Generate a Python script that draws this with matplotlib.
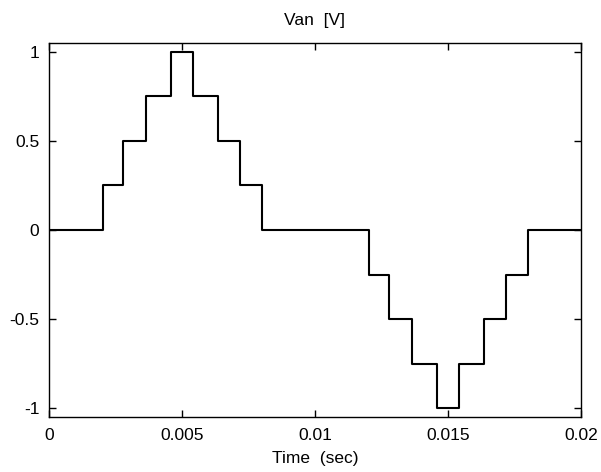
import numpy as np
import matplotlib
matplotlib.use('Agg')
import matplotlib.pyplot as plt

plt.rcParams['font.family'] = ['Liberation Sans', 'DejaVu Sans']

# switching instants (s) and the level held after each one
t_switch = [0, 0.00204, 0.0028, 0.00364, 0.0046, 0.0054, 0.00636, 0.0072, 0.008,
            0.01204, 0.0128, 0.01364, 0.0146, 0.0154, 0.01636, 0.0172, 0.018, 0.02]
van = [0, 0.25, 0.5, 0.75, 1, 0.75, 0.5, 0.25, 0,
       -0.25, -0.5, -0.75, -1, -0.75, -0.5, -0.25, 0, 0]

fig = plt.figure(figsize=(6.01, 4.72), dpi=100)
ax = fig.add_axes([0.0815, 0.1165, 0.885, 0.7924])

ax.step(t_switch, van, where='post', color='black', lw=1.5)

ax.set_xlim(0, 0.02)
ax.set_ylim(-1.05, 1.05)
ax.set_xticks([0, 0.005, 0.01, 0.015, 0.02])
ax.set_xticklabels(['0', '0.005', '0.01', '0.015', '0.02'])
ax.set_yticks([-1, -0.5, 0, 0.5, 1])
ax.set_yticklabels(['-1', '-0.5', '0', '0.5', '1'])
ax.tick_params(direction='in', top=True, right=True, length=5, width=1,
               labelsize=12.5)
ax.tick_params(axis='x', pad=8)
ax.tick_params(axis='y', pad=7)
for s in ax.spines.values():
    s.set_linewidth(1)

ax.set_title('Van  [V]', fontsize=12.5, pad=13)
ax.set_xlabel('Time  (sec)', fontsize=12.5, labelpad=6)

fig.savefig('out.png', dpi=100)
